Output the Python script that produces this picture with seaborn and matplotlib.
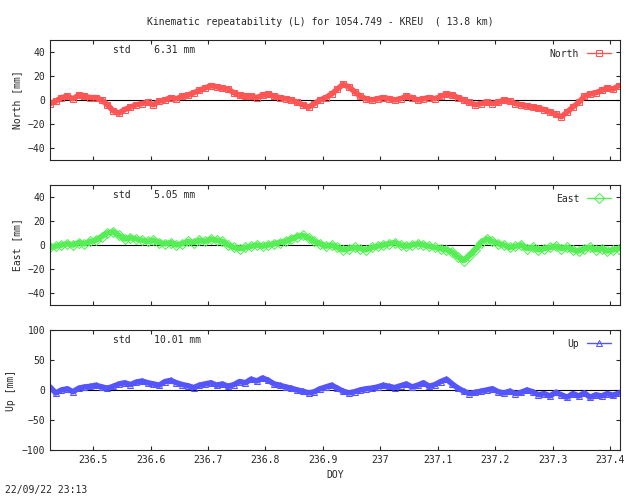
import matplotlib
matplotlib.use("Agg")
import matplotlib.pyplot as plt
import numpy as np
import pandas as pd
import seaborn as sns

doy_start = 236.425
doy_step = 0.01

north = [-3, -1, 2, 3, 1, 4, 3, 2,
         2, 0, -4, -9, -11, -8, -6, -4, -3, -2,
         -4, -1, 0, 2, 1, 3, 4, 6, 8, 10,
         12, 11, 10, 9, 6, 4, 3, 3, 2, 4,
         5, 3, 2, 1, 0, -2, -4, -6, -3, 0,
         2, 5, 9, 13, 11, 7, 3, 1, 0, 1,
         2, 1, 0, 1, 3, 2, 0, 1, 2, 1,
         3, 5, 4, 2, 0, -2, -4, -3, -2, -3,
         -2, 0, -1, -3, -4, -5, -6, -7, -8, -10,
         -12, -14, -10, -6, -2, 3, 5, 6, 8, 10,
         9, 12]
east = [-2, -1, 0, 1, 0, 2, 1, 3,
        4, 7, 10, 11, 8, 5, 6, 5, 4, 3,
        4, 2, 1, 2, 0, 1, 3, 2, 4, 3,
        5, 4, 3, 0, -2, -3, -2, -1, 0, -1,
        0, 1, 2, 3, 5, 7, 8, 6, 3, 1,
        -1, 0, -2, -4, -3, -2, -3, -4, -2, -1,
        0, 1, 2, 0, -1, 0, 1, 0, -1, -2,
        -3, -4, -6, -10, -13, -9, -4, 2, 5, 3,
        1, 0, -2, -1, 0, -3, -2, -4, -3, -2,
        -1, -3, -2, -4, -5, -3, -2, -4, -3, -5,
        -4, -3]
up = [5, -5, 0, 2, -3, 3, 5, 6,
      8, 5, 3, 6, 10, 12, 9, 13, 15, 12,
      10, 8, 14, 16, 12, 9, 7, 4, 8, 10,
      12, 8, 10, 6, 9, 14, 12, 18, 15, 20,
      16, 10, 8, 5, 3, 0, -2, -5, -3, 2,
      5, 8, 3, -2, -5, -3, 0, 2, 3, 5,
      8, 6, 4, 7, 10, 5, 8, 12, 6, 9,
      14, 18, 10, 3, -2, -6, -4, -2, 0, 2,
      -3, -5, -2, -6, -4, 0, -3, -8, -6, -10,
      -4, -8, -12, -6, -10, -5, -12, -8, -10, -6,
      -9, -5]

components = ["North", "East", "Up"]
stds = ["6.31", "5.05", "10.01"]
ylims = [(-50, 50), (-50, 50), (-100, 100)]
yticks = [[-40, -20, 0, 20, 40], [-40, -20, 0, 20, 40], [-100, -50, 0, 50, 100]]
xticks = [236.5, 236.6, 236.7, 236.8, 236.9, 237, 237.1, 237.2, 237.3, 237.4]
xticklabels = ["236.5", "236.6", "236.7", "236.8", "236.9", "237", "237.1", "237.2", "237.3", "237.4"]
colors = ["#ff5555", "#55ee55", "#5555ff"]
markers = ["s", "D", "^"]

doy = doy_start + doy_step * np.arange(len(north))
df = pd.DataFrame({"DOY": doy, "North": north, "East": east, "Up": up})

sns.set_style("ticks")
plt.rcParams["font.family"] = "DejaVu Sans Mono"
plt.rcParams["font.size"] = 7

fig = plt.figure(figsize=(6.4, 4.96), dpi=100)
tops = [40, 185, 330]
for i, comp in enumerate(components):
    ax = fig.add_axes([50 / 640, 1 - (tops[i] + 120) / 496, 570 / 640, 120 / 496])
    ax.axhline(0, color="black", lw=0.8, zorder=1)
    sns.lineplot(data=df, x="DOY", y=comp, ax=ax, color=colors[i], lw=4,
                 marker=markers[i], markersize=5, markerfacecolor="none",
                 markeredgecolor=colors[i], label=comp, zorder=2)
    ax.set_xlim(236.425, 237.417)
    ax.set_ylim(*ylims[i])
    ax.set_yticks(yticks[i])
    ax.set_xticks(xticks)
    ax.set_xticklabels(xticklabels if i == 2 else [])
    ax.set_ylabel(f"{comp} [mm]")
    ax.set_xlabel("DOY" if i == 2 else "")
    ax.tick_params(direction="in", length=3, top=True, right=True)
    ax.text(0.11, 0.92, f"std    {stds[i]} mm", transform=ax.transAxes, va="center")
    leg = ax.legend(loc="upper right", frameon=False, markerfirst=False, handlelength=2.5)
    for h in leg.get_lines():
        h.set_linewidth(1)
    for sp in ax.spines.values():
        sp.set_linewidth(0.8)

fig.text(0.5, 1 - 22 / 496, "Kinematic repeatability (L) for 1054.749 - KREU  ( 13.8 km)",
         ha="center", va="center")
fig.text(5 / 640, 1 - 490 / 496, "22/09/22 23:13", ha="left", va="center")
fig.savefig("out.png", dpi=100)
